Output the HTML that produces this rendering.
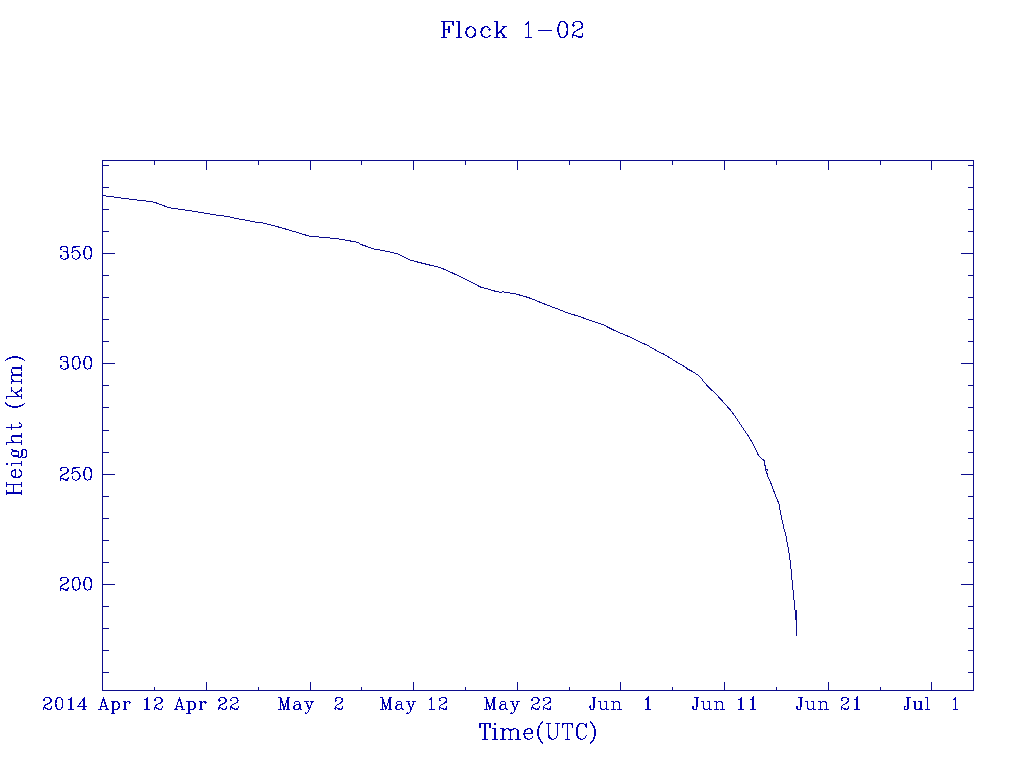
<!DOCTYPE html>
<html lang="en"><head><meta charset="utf-8"><title>Flock 1-02</title>
<style>html,body{margin:0;padding:0;background:#fff;}body{width:1024px;height:768px;overflow:hidden;font-family:"Liberation Serif",serif;}svg{display:block}</style></head>
<body>
<svg width="1024" height="768" viewBox="0 0 1024 768" role="img" aria-label="Flock 1-02: Height (km) versus Time(UTC)">
<rect width="1024" height="768" fill="#fff"/>
<path d="M102 160.5H974M102 690.5H974M102.5 160V691M973.5 160V691M103 253.5H115M961 253.5H973M103 363.5H115M961 363.5H973M103 474.5H115M961 474.5H973M103 584.5H115M961 584.5H973M103 165.5H109M968 165.5H973M103 187.5H109M968 187.5H973M103 209.5H109M968 209.5H973M103 231.5H109M968 231.5H973M103 275.5H109M968 275.5H973M103 297.5H109M968 297.5H973M103 319.5H109M968 319.5H973M103 341.5H109M968 341.5H973M103 385.5H109M968 385.5H973M103 407.5H109M968 407.5H973M103 430.5H109M968 430.5H973M103 452.5H109M968 452.5H973M103 496.5H109M968 496.5H973M103 518.5H109M968 518.5H973M103 540.5H109M968 540.5H973M103 562.5H109M968 562.5H973M103 606.5H109M968 606.5H973M103 628.5H109M968 628.5H973M103 650.5H109M968 650.5H973M103 672.5H109M968 672.5H973M206.5 682V690M206.5 161V170M310.5 682V690M310.5 161V170M413.5 682V690M413.5 161V170M517.5 682V690M517.5 161V170M620.5 682V690M620.5 161V170M724.5 682V690M724.5 161V170M828.5 682V690M828.5 161V170M931.5 682V690M931.5 161V170M154.5 687V690M154.5 161V165M258.5 687V690M258.5 161V165M361.5 687V690M361.5 161V165M465.5 687V690M465.5 161V165M569.5 687V690M569.5 161V165M672.5 687V690M672.5 161V165M776.5 687V690M776.5 161V165M880.5 687V690M880.5 161V165" fill="none" stroke="#0c0c8c" stroke-width="1" shape-rendering="crispEdges"/>
<path d="M102.5 195.5L106 196L121 198L137 200L151 201.5L155 202.5L162 205L168 207.5L181 209.5L192 211L204 213L216 215L228 216.5L235 218.25L247.75 220.5L255 222.1L262.75 223L267.75 224.25L280 227.4L292.75 231.1L309 236.1L327.75 237.75L341.5 239.25L352.5 241.4L358 242.25L361 244.5L375 249.25L381 250.1L390 252L397.5 253.9L402.5 256.4L410 260.1L417.5 262L428.5 264.75L440.4 267.6L453.5 273.5L466 279.4L481 287.25L488 289L497 291.8L502 292.3L503 291.2L504.5 292.3L510 293L513.7 293.5L517.5 294.5L521.5 295.5L525 296.5L528 297.5L531 298.5L533.5 299.5L535.75 300.5L538.25 301.5L540.6 302.5L543.1 303.5L548.5 305.5L553.6 307.5L558.9 309.5L563.9 311.5L569.35 313.5L577.5 315.9L582 317.5L584.9 318.5L590.4 320.5L596 322.5L602.7 324.5L615 330.75L627.5 336L641.2 342.5L648 345.5L651.1 347.5L653 348.5L656.2 350.5L660.3 352.5L664.5 354.5L666 355.5L669.4 357.5L672.45 359.5L675.65 361.5L679.1 363.5L682.25 365.3L685.4 367.1L687.6 369.1L691.6 371.1L694.75 373L697.25 374.6L699.75 376.75L701.6 378.6L703.75 381.9L709.6 388.1L715.8 393.9L722 400.6L726.2 405.4L730.75 410.4L734.5 415.4L738.7 421.7L742 426.7L744.5 430.5L747.7 435.1L752.7 443.4L755.3 448.4L758.25 455.1L761.1 458.2L764.2 460.4L764.5 465.2L765.5 465.6L765.5 470.4L767.5 469.3L766.5 473.5L767.4 474L767.6 476.5L769.5 479.7L770.8 483L773.3 489.7L775.8 496.3L778.3 502.2L779.2 505L780.2 511L782.1 520L784 528.8L785.8 535L787.5 544.3L789.3 554.6L790.7 564.9L791.5 575L792.5 585L793.5 595L794.5 605L795.5 615L795.6 619.5L796.5 611L796.5 635.6" fill="none" stroke="#0c0c8c" stroke-width="1" stroke-linejoin="round" shape-rendering="crispEdges"/>
<g fill="none" stroke="#0000b0" stroke-width="1" stroke-linecap="square" stroke-linejoin="miter" shape-rendering="crispEdges">
<path aria-label="Flock 1-02" stroke-width="1.1" d="M444 21.5L444 37.5M444.72 21.5L444.72 37.5M448.99 26.07L448.99 32.17M441.87 21.5L453.26 21.5L453.26 26.07L452.55 21.5M444.72 29.12L448.99 29.12M441.87 37.5L446.85 37.5M458.82 21.5L458.82 37.5M459.53 21.5L459.53 37.5M456.69 21.5L459.53 21.5M456.69 37.5L461.67 37.5M470.16 26.83L468.03 27.59L466.6 29.12L465.89 31.4L465.89 32.93L466.6 35.21L468.03 36.74L470.16 37.5L471.59 37.5L473.72 36.74L475.15 35.21L475.86 32.93L475.86 31.4L475.15 29.12L473.72 27.59L471.59 26.83L470.16 26.83M470.16 26.83L468.74 27.59L467.32 29.12L466.6 31.4L466.6 32.93L467.32 35.21L468.74 36.74L470.16 37.5M471.59 37.5L473.01 36.74L474.43 35.21L475.15 32.93L475.15 31.4L474.43 29.12L473.01 27.59L471.59 26.83M489.5 29.12L488.79 29.88L489.5 30.64L490.21 29.88L490.21 29.12L488.79 27.59L487.37 26.83L485.23 26.83L483.09 27.59L481.67 29.12L480.96 31.4L480.96 32.93L481.67 35.21L483.09 36.74L485.23 37.5L486.65 37.5L488.79 36.74L490.21 35.21M485.23 26.83L483.81 27.59L482.38 29.12L481.67 31.4L481.67 32.93L482.38 35.21L483.81 36.74L485.23 37.5M496.74 21.5L496.74 37.5M497.45 21.5L497.45 37.5M504.57 26.83L497.45 34.45M501.01 31.4L505.28 37.5M500.3 31.4L504.57 37.5M494.6 21.5L497.45 21.5M502.43 26.83L506.7 26.83M494.6 37.5L499.58 37.5M502.43 37.5L506.7 37.5M525.28 24.55L526.7 23.78L528.84 21.5L528.84 37.5M528.13 22.26L528.13 37.5M525.28 37.5L531.69 37.5M539.04 30.64L551.86 30.64M562.07 21.5L559.93 22.26L558.51 24.55L557.79 28.36L557.79 30.64L558.51 34.45L559.93 36.74L562.07 37.5L563.49 37.5L565.63 36.74L567.05 34.45L567.76 30.64L567.76 28.36L567.05 24.55L565.63 22.26L563.49 21.5L562.07 21.5M562.07 21.5L560.64 22.26L559.93 23.02L559.22 24.55L558.51 28.36L558.51 30.64L559.22 34.45L559.93 35.98L560.64 36.74L562.07 37.5M563.49 37.5L564.91 36.74L565.63 35.98L566.34 34.45L567.05 30.64L567.05 28.36L566.34 24.55L565.63 23.02L564.91 22.26L563.49 21.5M573.57 24.55L574.28 25.31L573.57 26.07L572.86 25.31L572.86 24.55L573.57 23.02L574.28 22.26L576.42 21.5L579.27 21.5L581.4 22.26L582.12 23.02L582.83 24.55L582.83 26.07L582.12 27.59L579.98 29.12L576.42 30.64L575 31.4L573.57 32.93L572.86 35.21L572.86 37.5M579.27 21.5L580.69 22.26L581.4 23.02L582.12 24.55L582.12 26.07L581.4 27.59L579.27 29.12L576.42 30.64M572.86 35.98L573.57 35.21L575 35.21L578.56 36.74L580.69 36.74L582.12 35.98L582.83 35.21M575 35.21L578.56 37.5L581.4 37.5L582.12 36.74L582.83 35.21L582.83 33.69"><title>Flock 1-02</title></path>
<path aria-label="Time(UTC)" stroke-width="1.1" d="M484.68 723.44L484.68 739.3M485.35 723.44L485.35 739.3M480.66 723.44L479.99 727.97L479.99 723.44L490.04 723.44L490.04 727.97L489.37 723.44M482.67 739.3L487.36 739.3M494.99 723.44L494.32 724.2L494.99 724.95L495.67 724.2L494.99 723.44M494.99 728.73L494.99 739.3M495.67 728.73L495.67 739.3M492.98 728.73L495.67 728.73M492.98 739.3L497.68 739.3M502.75 728.73L502.75 739.3M503.42 728.73L503.42 739.3M503.42 731L504.76 729.48L506.77 728.73L508.11 728.73L510.12 729.48L510.79 731L510.79 739.3M508.11 728.73L509.45 729.48L510.12 731L510.12 739.3M510.79 731L512.14 729.48L514.15 728.73L515.49 728.73L517.5 729.48L518.17 731L518.17 739.3M515.49 728.73L516.83 729.48L517.5 731L517.5 739.3M500.74 728.73L503.42 728.73M500.74 739.3L505.43 739.3M508.11 739.3L512.81 739.3M515.49 739.3L520.18 739.3M524.67 733.26L532.72 733.26L532.72 731.75L532.04 730.24L531.37 729.48L530.03 728.73L528.02 728.73L526.01 729.48L524.67 731L524 733.26L524 734.77L524.67 737.03L526.01 738.54L528.02 739.3L529.36 739.3L531.37 738.54L532.72 737.03M532.04 733.26L532.04 731L531.37 729.48M528.02 728.73L526.68 729.48L525.34 731L524.67 733.26L524.67 734.77L525.34 737.03L526.68 738.54L528.02 739.3M542.38 721.93L541.04 723.26L539.7 725.24L538.35 727.88L537.68 731.18L537.68 733.83L538.35 737.13L539.7 739.77L541.04 741.75L542.38 743.07M541.04 723.26L539.7 725.9L539.02 727.88L538.35 731.18L538.35 733.83L539.02 737.13L539.7 739.11L541.04 741.75M548.07 723.44L548.07 734.77L548.74 737.03L550.08 738.54L552.09 739.3L553.43 739.3L555.44 738.54L556.78 737.03L557.46 734.77L557.46 723.44M548.74 723.44L548.74 734.77L549.41 737.03L550.75 738.54L552.09 739.3M546.06 723.44L550.75 723.44M555.44 723.44L559.47 723.44M567.2 723.44L567.2 739.3M567.87 723.44L567.87 739.3M563.18 723.44L562.51 727.97L562.51 723.44L572.57 723.44L572.57 727.97L571.9 723.44M565.19 739.3L569.89 739.3M585.67 725.71L586.34 727.97L586.34 723.44L585.67 725.71L584.33 724.2L582.32 723.44L580.97 723.44L578.96 724.2L577.62 725.71L576.95 727.22L576.28 729.48L576.28 733.26L576.95 735.52L577.62 737.03L578.96 738.54L580.97 739.3L582.32 739.3L584.33 738.54L585.67 737.03L586.34 735.52M580.97 723.44L579.63 724.2L578.29 725.71L577.62 727.22L576.95 729.48L576.95 733.26L577.62 735.52L578.29 737.03L579.63 738.54L580.97 739.3M590.65 721.93L591.99 723.26L593.34 725.24L594.68 727.88L595.35 731.18L595.35 733.83L594.68 737.13L593.34 739.77L591.99 741.75L590.65 743.07M591.99 723.26L593.34 725.9L594.01 727.88L594.68 731.18L594.68 733.83L594.01 737.13L593.34 739.11L591.99 741.75"><title>Time(UTC)</title></path>
<path aria-label="Height (km)" stroke-width="1.1" d="M6.51 493L21.5 493M6.51 492.38L21.5 492.38M6.51 484.9L21.5 484.9M6.51 484.28L21.5 484.28M6.51 494.87L6.51 490.51M6.51 486.77L6.51 482.41M13.65 492.38L13.65 484.9M21.5 494.87L21.5 490.51M21.5 486.77L21.5 482.41M15.79 477.24L15.79 469.76L14.36 469.76L12.93 470.38L12.22 471.01L11.5 472.25L11.5 474.12L12.22 475.99L13.65 477.24L15.79 477.86L17.22 477.86L19.36 477.24L20.79 475.99L21.5 474.12L21.5 472.87L20.79 471.01L19.36 469.76M15.79 470.38L13.65 470.38L12.22 471.01M11.5 474.12L12.22 475.37L13.65 476.61L15.79 477.24L17.22 477.24L19.36 476.61L20.79 475.37L21.5 474.12M6.51 463.86L7.22 464.48L7.93 463.86L7.22 463.24L6.51 463.86M11.5 463.86L21.5 463.86M11.5 463.24L21.5 463.24M11.5 465.73L11.5 463.24M21.5 465.73L21.5 461.37M11.5 454.16L12.22 455.41L12.93 456.03L14.36 456.65L15.79 456.65L17.22 456.03L17.93 455.41L18.64 454.16L18.64 452.91L17.93 451.67L17.22 451.04L15.79 450.42L14.36 450.42L12.93 451.04L12.22 451.67L11.5 452.91L11.5 454.16M12.22 455.41L13.65 456.03L16.5 456.03L17.93 455.41M17.93 451.67L16.5 451.04L13.65 451.04L12.22 451.67M12.93 451.04L12.22 450.42L11.5 449.18L12.22 449.18L12.22 450.42M17.22 456.03L17.93 456.65L19.36 457.28L20.07 457.28L21.5 456.65L22.21 454.78L22.21 451.67L22.93 449.8L23.64 449.18M20.07 457.28L20.79 456.65L21.5 454.78L21.5 451.67L22.21 449.8L23.64 449.18L24.36 449.18L25.78 449.8L26.5 451.67L26.5 455.41L25.78 457.28L24.36 457.9L23.64 457.9L22.21 457.28L21.5 455.41M6.51 442.82L21.5 442.82M6.51 442.2L21.5 442.2M13.65 442.2L12.22 440.95L11.5 439.08L11.5 437.84L12.22 435.97L13.65 435.34L21.5 435.34M11.5 437.84L12.22 436.59L13.65 435.97L21.5 435.97M6.51 444.69L6.51 442.2M21.5 444.69L21.5 440.33M21.5 437.84L21.5 433.47M6.51 427.94L18.64 427.94L20.79 427.32L21.5 426.07L21.5 424.82L20.79 423.58L19.36 422.95M6.51 427.32L18.64 427.32L20.79 426.69L21.5 426.07M11.5 429.81L11.5 424.82M5.08 402.86L6.33 404.11L8.2 405.36L10.7 406.6L13.82 407.23L16.32 407.23L19.45 406.6L21.95 405.36L23.82 404.11L25.07 402.86M6.33 404.11L8.83 405.36L10.7 405.98L13.82 406.6L16.32 406.6L19.45 405.98L21.32 405.36L23.82 404.11M6.51 396.71L21.5 396.71M6.51 396.08L21.5 396.08M11.5 389.85L18.64 396.08M15.79 392.97L21.5 389.23M15.79 393.59L21.5 389.85M6.51 398.57L6.51 396.08M11.5 391.72L11.5 387.98M21.5 398.57L21.5 394.21M21.5 391.72L21.5 387.98M11.5 381.92L21.5 381.92M11.5 381.3L21.5 381.3M13.65 381.3L12.22 380.06L11.5 378.19L11.5 376.94L12.22 375.07L13.65 374.45L21.5 374.45M11.5 376.94L12.22 375.69L13.65 375.07L21.5 375.07M13.65 374.45L12.22 373.2L11.5 371.33L11.5 370.09L12.22 368.22L13.65 367.59L21.5 367.59M11.5 370.09L12.22 368.84L13.65 368.22L21.5 368.22M11.5 383.79L11.5 381.3M21.5 383.79L21.5 379.43M21.5 376.94L21.5 372.58M21.5 370.09L21.5 365.72M5.08 361.04L6.33 359.8L8.2 358.55L10.7 357.31L13.82 356.68L16.32 356.68L19.45 357.31L21.95 358.55L23.82 359.8L25.07 361.04M6.33 359.8L8.83 358.55L10.7 357.93L13.82 357.31L16.32 357.31L19.45 357.93L21.32 358.55L23.82 359.8"><title>Height (km)</title></path>
<path aria-label="2014 Apr 12" d="M44.32 699.83L44.85 700.4L44.32 700.98L43.78 700.4L43.78 699.83L44.32 698.68L44.85 698.1L46.47 697.52L48.61 697.52L50.22 698.1L50.76 698.68L51.3 699.83L51.3 700.98L50.76 702.12L49.15 703.27L46.47 704.43L45.39 705L44.32 706.15L43.78 707.88L43.78 709.6M48.61 697.52L49.69 698.1L50.22 698.68L50.76 699.83L50.76 700.98L50.22 702.12L48.61 703.27L46.47 704.43M43.78 708.45L44.32 707.88L45.39 707.88L48.08 709.02L49.69 709.02L50.76 708.45L51.3 707.88M45.39 707.88L48.08 709.6L50.22 709.6L50.76 709.02L51.3 707.88L51.3 706.73M58.68 697.52L57.07 698.1L55.99 699.83L55.46 702.7L55.46 704.43L55.99 707.3L57.07 709.02L58.68 709.6L59.75 709.6L61.36 709.02L62.44 707.3L62.97 704.43L62.97 702.7L62.44 699.83L61.36 698.1L59.75 697.52L58.68 697.52M58.68 697.52L57.6 698.1L57.07 698.68L56.53 699.83L55.99 702.7L55.99 704.43L56.53 707.3L57.07 708.45L57.6 709.02L58.68 709.6M59.75 709.6L60.83 709.02L61.36 708.45L61.9 707.3L62.44 704.43L62.44 702.7L61.9 699.83L61.36 698.68L60.83 698.1L59.75 697.52M68.74 699.83L69.82 699.25L71.43 697.52L71.43 709.6M70.89 698.1L70.89 709.6M68.74 709.6L73.58 709.6M83.64 698.68L83.64 709.6M84.18 697.52L84.18 709.6M84.18 697.52L78.27 706.15L86.86 706.15M82.03 709.6L85.79 709.6M103.58 697.52L99.82 709.6M103.58 697.52L107.34 709.6M103.58 699.25L106.81 709.6M100.9 706.15L105.73 706.15M98.75 709.6L101.97 709.6M105.19 709.6L108.42 709.6M112.62 701.55L112.62 713.62M113.16 701.55L113.16 713.62M113.16 703.27L114.23 702.12L115.31 701.55L116.38 701.55L117.99 702.12L119.07 703.27L119.6 705L119.6 706.15L119.07 707.88L117.99 709.02L116.38 709.6L115.31 709.6L114.23 709.02L113.16 707.88M116.38 701.55L117.45 702.12L118.53 703.27L119.07 705L119.07 706.15L118.53 707.88L117.45 709.02L116.38 709.6M111.01 701.55L113.16 701.55M111.01 713.62L114.77 713.62M124.79 701.55L124.79 709.6M125.32 701.55L125.32 709.6M125.32 705L125.86 703.27L126.94 702.12L128.01 701.55L129.62 701.55L130.16 702.12L130.16 702.7L129.62 703.27L129.08 702.7L129.62 702.12M123.18 701.55L125.32 701.55M123.18 709.6L126.94 709.6M144.64 699.83L145.71 699.25L147.32 697.52L147.32 709.6M146.78 698.1L146.78 709.6M144.64 709.6L149.47 709.6M155.24 699.83L155.78 700.4L155.24 700.98L154.7 700.4L154.7 699.83L155.24 698.68L155.78 698.1L157.39 697.52L159.53 697.52L161.15 698.1L161.68 698.68L162.22 699.83L162.22 700.98L161.68 702.12L160.07 703.27L157.39 704.43L156.31 705L155.24 706.15L154.7 707.88L154.7 709.6M159.53 697.52L160.61 698.1L161.15 698.68L161.68 699.83L161.68 700.98L161.15 702.12L159.53 703.27L157.39 704.43M154.7 708.45L155.24 707.88L156.31 707.88L159 709.02L160.61 709.02L161.68 708.45L162.22 707.88M156.31 707.88L159 709.6L161.15 709.6L161.68 709.02L162.22 707.88L162.22 706.73"><title>2014 Apr 12</title></path>
<path aria-label="Apr 22" d="M179.46 697.52L175.7 709.6M179.46 697.52L183.22 709.6M179.46 699.25L182.68 709.6M176.78 706.15L181.61 706.15M174.63 709.6L177.85 709.6M181.07 709.6L184.29 709.6M188.5 701.55L188.5 713.62M189.04 701.55L189.04 713.62M189.04 703.27L190.11 702.12L191.18 701.55L192.26 701.55L193.87 702.12L194.94 703.27L195.48 705L195.48 706.15L194.94 707.88L193.87 709.02L192.26 709.6L191.18 709.6L190.11 709.02L189.04 707.88M192.26 701.55L193.33 702.12L194.41 703.27L194.94 705L194.94 706.15L194.41 707.88L193.33 709.02L192.26 709.6M186.89 701.55L189.04 701.55M186.89 713.62L190.65 713.62M200.67 701.55L200.67 709.6M201.2 701.55L201.2 709.6M201.2 705L201.74 703.27L202.81 702.12L203.89 701.55L205.5 701.55L206.04 702.12L206.04 702.7L205.5 703.27L204.96 702.7L205.5 702.12M199.05 701.55L201.2 701.55M199.05 709.6L202.81 709.6M219.44 699.83L219.98 700.4L219.44 700.98L218.9 700.4L218.9 699.83L219.44 698.68L219.98 698.1L221.59 697.52L223.74 697.52L225.35 698.1L225.88 698.68L226.42 699.83L226.42 700.98L225.88 702.12L224.27 703.27L221.59 704.43L220.51 705L219.44 706.15L218.9 707.88L218.9 709.6M223.74 697.52L224.81 698.1L225.35 698.68L225.88 699.83L225.88 700.98L225.35 702.12L223.74 703.27L221.59 704.43M218.9 708.45L219.44 707.88L220.51 707.88L223.2 709.02L224.81 709.02L225.88 708.45L226.42 707.88M220.51 707.88L223.2 709.6L225.35 709.6L225.88 709.02L226.42 707.88L226.42 706.73M231.12 699.83L231.65 700.4L231.12 700.98L230.58 700.4L230.58 699.83L231.12 698.68L231.65 698.1L233.26 697.52L235.41 697.52L237.02 698.1L237.56 698.68L238.1 699.83L238.1 700.98L237.56 702.12L235.95 703.27L233.26 704.43L232.19 705L231.12 706.15L230.58 707.88L230.58 709.6M235.41 697.52L236.49 698.1L237.02 698.68L237.56 699.83L237.56 700.98L237.02 702.12L235.41 703.27L233.26 704.43M230.58 708.45L231.12 707.88L232.19 707.88L234.88 709.02L236.49 709.02L237.56 708.45L238.1 707.88M232.19 707.88L234.88 709.6L237.02 709.6L237.56 709.02L238.1 707.88L238.1 706.73"><title>Apr 22</title></path>
<path aria-label="May 2" d="M280.29 697.52L280.29 709.6M280.82 697.52L284.05 707.88M280.29 697.52L284.05 709.6M287.8 697.52L284.05 709.6M287.8 697.52L287.8 709.6M288.34 697.52L288.34 709.6M278.68 697.52L280.82 697.52M287.8 697.52L289.95 697.52M278.68 709.6L281.9 709.6M286.19 709.6L289.95 709.6M294.74 702.7L294.74 703.27L294.2 703.27L294.2 702.7L294.74 702.12L295.81 701.55L297.96 701.55L299.04 702.12L299.57 702.7L300.11 703.85L300.11 707.88L300.65 709.02L301.18 709.6M299.57 702.7L299.57 707.88L300.11 709.02L301.18 709.6L301.72 709.6M299.57 703.85L299.04 704.43L295.81 705L294.2 705.58L293.67 706.73L293.67 707.88L294.2 709.02L295.81 709.6L297.43 709.6L298.5 709.02L299.57 707.88M295.81 705L294.74 705.58L294.2 706.73L294.2 707.88L294.74 709.02L295.81 709.6M305.93 701.55L309.15 709.6M306.46 701.55L309.15 708.45M312.37 701.55L309.15 709.6L308.07 711.9L307 713.05L305.93 713.62L305.39 713.62L304.85 713.05L305.39 712.48L305.93 713.05M304.85 701.55L308.07 701.55M310.22 701.55L313.44 701.55M335.7 699.83L336.24 700.4L335.7 700.98L335.16 700.4L335.16 699.83L335.7 698.68L336.24 698.1L337.85 697.52L340 697.52L341.61 698.1L342.14 698.68L342.68 699.83L342.68 700.98L342.14 702.12L340.53 703.27L337.85 704.43L336.77 705L335.7 706.15L335.16 707.88L335.16 709.6M340 697.52L341.07 698.1L341.61 698.68L342.14 699.83L342.14 700.98L341.61 702.12L340 703.27L337.85 704.43M335.16 708.45L335.7 707.88L336.77 707.88L339.46 709.02L341.07 709.02L342.14 708.45L342.68 707.88M336.77 707.88L339.46 709.6L341.61 709.6L342.14 709.02L342.68 707.88L342.68 706.73"><title>May 2</title></path>
<path aria-label="May 12" d="M382.12 697.52L382.12 709.6M382.66 697.52L385.88 707.88M382.12 697.52L385.88 709.6M389.64 697.52L385.88 709.6M389.64 697.52L389.64 709.6M390.17 697.52L390.17 709.6M380.51 697.52L382.66 697.52M389.64 697.52L391.78 697.52M380.51 709.6L383.73 709.6M388.03 709.6L391.78 709.6M396.57 702.7L396.57 703.27L396.04 703.27L396.04 702.7L396.57 702.12L397.65 701.55L399.8 701.55L400.87 702.12L401.41 702.7L401.94 703.85L401.94 707.88L402.48 709.02L403.02 709.6M401.41 702.7L401.41 707.88L401.94 709.02L403.02 709.6L403.55 709.6M401.41 703.85L400.87 704.43L397.65 705L396.04 705.58L395.5 706.73L395.5 707.88L396.04 709.02L397.65 709.6L399.26 709.6L400.33 709.02L401.41 707.88M397.65 705L396.57 705.58L396.04 706.73L396.04 707.88L396.57 709.02L397.65 709.6M407.76 701.55L410.98 709.6M408.3 701.55L410.98 708.45M414.2 701.55L410.98 709.6L409.91 711.9L408.83 713.05L407.76 713.62L407.22 713.62L406.68 713.05L407.22 712.48L407.76 713.05M406.68 701.55L409.91 701.55M412.05 701.55L415.28 701.55M429.27 699.83L430.34 699.25L431.95 697.52L431.95 709.6M431.41 698.1L431.41 709.6M429.27 709.6L434.1 709.6M439.87 699.83L440.4 700.4L439.87 700.98L439.33 700.4L439.33 699.83L439.87 698.68L440.4 698.1L442.02 697.52L444.16 697.52L445.77 698.1L446.31 698.68L446.85 699.83L446.85 700.98L446.31 702.12L444.7 703.27L442.02 704.43L440.94 705L439.87 706.15L439.33 707.88L439.33 709.6M444.16 697.52L445.24 698.1L445.77 698.68L446.31 699.83L446.31 700.98L445.77 702.12L444.16 703.27L442.02 704.43M439.33 708.45L439.87 707.88L440.94 707.88L443.63 709.02L445.24 709.02L446.31 708.45L446.85 707.88M440.94 707.88L443.63 709.6L445.77 709.6L446.31 709.02L446.85 707.88L446.85 706.73"><title>May 12</title></path>
<path aria-label="May 22" d="M486.12 697.52L486.12 709.6M486.66 697.52L489.88 707.88M486.12 697.52L489.88 709.6M493.64 697.52L489.88 709.6M493.64 697.52L493.64 709.6M494.17 697.52L494.17 709.6M484.51 697.52L486.66 697.52M493.64 697.52L495.78 697.52M484.51 709.6L487.73 709.6M492.03 709.6L495.78 709.6M500.57 702.7L500.57 703.27L500.04 703.27L500.04 702.7L500.57 702.12L501.65 701.55L503.8 701.55L504.87 702.12L505.41 702.7L505.94 703.85L505.94 707.88L506.48 709.02L507.02 709.6M505.41 702.7L505.41 707.88L505.94 709.02L507.02 709.6L507.55 709.6M505.41 703.85L504.87 704.43L501.65 705L500.04 705.58L499.5 706.73L499.5 707.88L500.04 709.02L501.65 709.6L503.26 709.6L504.33 709.02L505.41 707.88M501.65 705L500.57 705.58L500.04 706.73L500.04 707.88L500.57 709.02L501.65 709.6M511.76 701.55L514.98 709.6M512.3 701.55L514.98 708.45M518.2 701.55L514.98 709.6L513.91 711.9L512.83 713.05L511.76 713.62L511.22 713.62L510.69 713.05L511.22 712.48L511.76 713.05M510.69 701.55L513.91 701.55M516.05 701.55L519.28 701.55M532.19 699.83L532.73 700.4L532.19 700.98L531.65 700.4L531.65 699.83L532.19 698.68L532.73 698.1L534.34 697.52L536.49 697.52L538.1 698.1L538.64 698.68L539.17 699.83L539.17 700.98L538.64 702.12L537.02 703.27L534.34 704.43L533.27 705L532.19 706.15L531.65 707.88L531.65 709.6M536.49 697.52L537.56 698.1L538.1 698.68L538.64 699.83L538.64 700.98L538.1 702.12L536.49 703.27L534.34 704.43M531.65 708.45L532.19 707.88L533.27 707.88L535.95 709.02L537.56 709.02L538.64 708.45L539.17 707.88M533.27 707.88L535.95 709.6L538.1 709.6L538.64 709.02L539.17 707.88L539.17 706.73M543.87 699.83L544.4 700.4L543.87 700.98L543.33 700.4L543.33 699.83L543.87 698.68L544.4 698.1L546.02 697.52L548.16 697.52L549.77 698.1L550.31 698.68L550.85 699.83L550.85 700.98L550.31 702.12L548.7 703.27L546.02 704.43L544.94 705L543.87 706.15L543.33 707.88L543.33 709.6M548.16 697.52L549.24 698.1L549.77 698.68L550.31 699.83L550.31 700.98L549.77 702.12L548.16 703.27L546.02 704.43M543.33 708.45L543.87 707.88L544.94 707.88L547.63 709.02L549.24 709.02L550.31 708.45L550.85 707.88M544.94 707.88L547.63 709.6L549.77 709.6L550.31 709.02L550.85 707.88L550.85 706.73"><title>May 22</title></path>
<path aria-label="Jun 1" d="M594.2 697.52L594.2 707.3L593.66 709.02L592.59 709.6L591.51 709.6L590.44 709.02L589.9 707.88L589.9 706.73L590.44 706.15L590.97 706.73L590.44 707.3M593.66 697.52L593.66 707.3L593.12 709.02L592.59 709.6M592.05 697.52L595.81 697.52M600.46 701.55L600.46 707.88L600.99 709.02L602.6 709.6L603.68 709.6L605.29 709.02L606.36 707.88M600.99 701.55L600.99 707.88L601.53 709.02L602.6 709.6M606.36 701.55L606.36 709.6M606.9 701.55L606.9 709.6M598.84 701.55L600.99 701.55M604.75 701.55L606.9 701.55M606.36 709.6L608.51 709.6M613.3 701.55L613.3 709.6M613.84 701.55L613.84 709.6M613.84 703.27L614.91 702.12L616.52 701.55L617.6 701.55L619.21 702.12L619.74 703.27L619.74 709.6M617.6 701.55L618.67 702.12L619.21 703.27L619.21 709.6M611.69 701.55L613.84 701.55M611.69 709.6L615.45 709.6M617.6 709.6L621.35 709.6M645.31 699.83L646.39 699.25L648 697.52L648 709.6M647.46 698.1L647.46 709.6M645.31 709.6L650.15 709.6"><title>Jun 1</title></path>
<path aria-label="Jun 11" d="M697.03 697.52L697.03 707.3L696.49 709.02L695.42 709.6L694.34 709.6L693.27 709.02L692.73 707.88L692.73 706.73L693.27 706.15L693.81 706.73L693.27 707.3M696.49 697.52L696.49 707.3L695.96 709.02L695.42 709.6M694.88 697.52L698.64 697.52M703.29 701.55L703.29 707.88L703.83 709.02L705.44 709.6L706.51 709.6L708.12 709.02L709.2 707.88M703.83 701.55L703.83 707.88L704.36 709.02L705.44 709.6M709.2 701.55L709.2 709.6M709.73 701.55L709.73 709.6M701.68 701.55L703.83 701.55M707.58 701.55L709.73 701.55M709.2 709.6L711.34 709.6M716.13 701.55L716.13 709.6M716.67 701.55L716.67 709.6M716.67 703.27L717.74 702.12L719.35 701.55L720.43 701.55L722.04 702.12L722.58 703.27L722.58 709.6M720.43 701.55L721.5 702.12L722.04 703.27L722.04 709.6M714.52 701.55L716.67 701.55M714.52 709.6L718.28 709.6M720.43 709.6L724.19 709.6M738.81 699.83L739.88 699.25L741.49 697.52L741.49 709.6M740.95 698.1L740.95 709.6M738.81 709.6L743.64 709.6M750.48 699.83L751.56 699.25L753.17 697.52L753.17 709.6M752.63 698.1L752.63 709.6M750.48 709.6L755.32 709.6"><title>Jun 11</title></path>
<path aria-label="Jun 21" d="M801.03 697.52L801.03 707.3L800.49 709.02L799.42 709.6L798.34 709.6L797.27 709.02L796.73 707.88L796.73 706.73L797.27 706.15L797.81 706.73L797.27 707.3M800.49 697.52L800.49 707.3L799.96 709.02L799.42 709.6M798.88 697.52L802.64 697.52M807.29 701.55L807.29 707.88L807.83 709.02L809.44 709.6L810.51 709.6L812.12 709.02L813.2 707.88M807.83 701.55L807.83 707.88L808.36 709.02L809.44 709.6M813.2 701.55L813.2 709.6M813.73 701.55L813.73 709.6M805.68 701.55L807.83 701.55M811.58 701.55L813.73 701.55M813.2 709.6L815.34 709.6M820.13 701.55L820.13 709.6M820.67 701.55L820.67 709.6M820.67 703.27L821.74 702.12L823.35 701.55L824.43 701.55L826.04 702.12L826.58 703.27L826.58 709.6M824.43 701.55L825.5 702.12L826.04 703.27L826.04 709.6M818.52 701.55L820.67 701.55M818.52 709.6L822.28 709.6M824.43 709.6L828.19 709.6M841.73 699.83L842.27 700.4L841.73 700.98L841.2 700.4L841.2 699.83L841.73 698.68L842.27 698.1L843.88 697.52L846.03 697.52L847.64 698.1L848.18 698.68L848.71 699.83L848.71 700.98L848.18 702.12L846.57 703.27L843.88 704.43L842.81 705L841.73 706.15L841.2 707.88L841.2 709.6M846.03 697.52L847.1 698.1L847.64 698.68L848.18 699.83L848.18 700.98L847.64 702.12L846.03 703.27L843.88 704.43M841.2 708.45L841.73 707.88L842.81 707.88L845.49 709.02L847.1 709.02L848.18 708.45L848.71 707.88M842.81 707.88L845.49 709.6L847.64 709.6L848.18 709.02L848.71 707.88L848.71 706.73M854.48 699.83L855.56 699.25L857.17 697.52L857.17 709.6M856.63 698.1L856.63 709.6M854.48 709.6L859.32 709.6"><title>Jun 21</title></path>
<path aria-label="Jul 1" d="M908.41 697.52L908.41 707.3L907.87 709.02L906.8 709.6L905.72 709.6L904.65 709.02L904.11 707.88L904.11 706.73L904.65 706.15L905.19 706.73L904.65 707.3M907.87 697.52L907.87 707.3L907.33 709.02L906.8 709.6M906.26 697.52L910.02 697.52M914.67 701.55L914.67 707.88L915.2 709.02L916.81 709.6L917.89 709.6L919.5 709.02L920.57 707.88M915.2 701.55L915.2 707.88L915.74 709.02L916.81 709.6M920.57 701.55L920.57 709.6M921.11 701.55L921.11 709.6M913.06 701.55L915.2 701.55M918.96 701.55L921.11 701.55M920.57 709.6L922.72 709.6M927.23 697.52L927.23 709.6M927.77 697.52L927.77 709.6M925.62 697.52L927.77 697.52M925.62 709.6L929.38 709.6M953.1 699.83L954.18 699.25L955.79 697.52L955.79 709.6M955.25 698.1L955.25 709.6M953.1 709.6L957.94 709.6"><title>Jul 1</title></path>
<path aria-label="350" d="M60.97 248.8L61.55 249.4L60.97 250L60.39 249.4L60.39 248.8L60.97 247.6L61.55 247L63.28 246.4L65.6 246.4L67.33 247L67.91 248.2L67.91 250L67.33 251.2L65.6 251.8L63.86 251.8M65.6 246.4L66.76 247L67.33 248.2L67.33 250L66.76 251.2L65.6 251.8M65.6 251.8L66.76 252.4L67.91 253.6L68.49 254.8L68.49 256.6L67.91 257.8L67.33 258.4L65.6 259L63.28 259L61.55 258.4L60.97 257.8L60.39 256.6L60.39 256L60.97 255.4L61.55 256L60.97 256.6M67.33 253L67.91 254.8L67.91 256.6L67.33 257.8L66.76 258.4L65.6 259M73.23 246.4L72.07 252.4M72.07 252.4L73.23 251.2L74.96 250.6L76.7 250.6L78.44 251.2L79.59 252.4L80.17 254.2L80.17 255.4L79.59 257.2L78.44 258.4L76.7 259L74.96 259L73.23 258.4L72.65 257.8L72.07 256.6L72.07 256L72.65 255.4L73.23 256L72.65 256.6M76.7 250.6L77.86 251.2L79.02 252.4L79.59 254.2L79.59 255.4L79.02 257.2L77.86 258.4L76.7 259M73.23 246.4L79.02 246.4M73.23 247L76.12 247L79.02 246.4M87.22 246.4L85.48 247L84.33 248.8L83.75 251.8L83.75 253.6L84.33 256.6L85.48 258.4L87.22 259L88.38 259L90.12 258.4L91.27 256.6L91.85 253.6L91.85 251.8L91.27 248.8L90.12 247L88.38 246.4L87.22 246.4M87.22 246.4L86.06 247L85.48 247.6L84.91 248.8L84.33 251.8L84.33 253.6L84.91 256.6L85.48 257.8L86.06 258.4L87.22 259M88.38 259L89.54 258.4L90.12 257.8L90.69 256.6L91.27 253.6L91.27 251.8L90.69 248.8L90.12 247.6L89.54 247L88.38 246.4"><title>350</title></path>
<path aria-label="300" d="M60.97 358.8L61.55 359.4L60.97 360L60.39 359.4L60.39 358.8L60.97 357.6L61.55 357L63.28 356.4L65.6 356.4L67.33 357L67.91 358.2L67.91 360L67.33 361.2L65.6 361.8L63.86 361.8M65.6 356.4L66.76 357L67.33 358.2L67.33 360L66.76 361.2L65.6 361.8M65.6 361.8L66.76 362.4L67.91 363.6L68.49 364.8L68.49 366.6L67.91 367.8L67.33 368.4L65.6 369L63.28 369L61.55 368.4L60.97 367.8L60.39 366.6L60.39 366L60.97 365.4L61.55 366L60.97 366.6M67.33 363L67.91 364.8L67.91 366.6L67.33 367.8L66.76 368.4L65.6 369M75.54 356.4L73.8 357L72.65 358.8L72.07 361.8L72.07 363.6L72.65 366.6L73.8 368.4L75.54 369L76.7 369L78.44 368.4L79.59 366.6L80.17 363.6L80.17 361.8L79.59 358.8L78.44 357L76.7 356.4L75.54 356.4M75.54 356.4L74.38 357L73.8 357.6L73.23 358.8L72.65 361.8L72.65 363.6L73.23 366.6L73.8 367.8L74.38 368.4L75.54 369M76.7 369L77.86 368.4L78.44 367.8L79.02 366.6L79.59 363.6L79.59 361.8L79.02 358.8L78.44 357.6L77.86 357L76.7 356.4M87.22 356.4L85.48 357L84.33 358.8L83.75 361.8L83.75 363.6L84.33 366.6L85.48 368.4L87.22 369L88.38 369L90.12 368.4L91.27 366.6L91.85 363.6L91.85 361.8L91.27 358.8L90.12 357L88.38 356.4L87.22 356.4M87.22 356.4L86.06 357L85.48 357.6L84.91 358.8L84.33 361.8L84.33 363.6L84.91 366.6L85.48 367.8L86.06 368.4L87.22 369M88.38 369L89.54 368.4L90.12 367.8L90.69 366.6L91.27 363.6L91.27 361.8L90.69 358.8L90.12 357.6L89.54 357L88.38 356.4"><title>300</title></path>
<path aria-label="250" d="M60.97 469.8L61.55 470.4L60.97 471L60.39 470.4L60.39 469.8L60.97 468.6L61.55 468L63.28 467.4L65.6 467.4L67.33 468L67.91 468.6L68.49 469.8L68.49 471L67.91 472.2L66.18 473.4L63.28 474.6L62.12 475.2L60.97 476.4L60.39 478.2L60.39 480M65.6 467.4L66.76 468L67.33 468.6L67.91 469.8L67.91 471L67.33 472.2L65.6 473.4L63.28 474.6M60.39 478.8L60.97 478.2L62.12 478.2L65.02 479.4L66.76 479.4L67.91 478.8L68.49 478.2M62.12 478.2L65.02 480L67.33 480L67.91 479.4L68.49 478.2L68.49 477M73.23 467.4L72.07 473.4M72.07 473.4L73.23 472.2L74.96 471.6L76.7 471.6L78.44 472.2L79.59 473.4L80.17 475.2L80.17 476.4L79.59 478.2L78.44 479.4L76.7 480L74.96 480L73.23 479.4L72.65 478.8L72.07 477.6L72.07 477L72.65 476.4L73.23 477L72.65 477.6M76.7 471.6L77.86 472.2L79.02 473.4L79.59 475.2L79.59 476.4L79.02 478.2L77.86 479.4L76.7 480M73.23 467.4L79.02 467.4M73.23 468L76.12 468L79.02 467.4M87.22 467.4L85.48 468L84.33 469.8L83.75 472.8L83.75 474.6L84.33 477.6L85.48 479.4L87.22 480L88.38 480L90.12 479.4L91.27 477.6L91.85 474.6L91.85 472.8L91.27 469.8L90.12 468L88.38 467.4L87.22 467.4M87.22 467.4L86.06 468L85.48 468.6L84.91 469.8L84.33 472.8L84.33 474.6L84.91 477.6L85.48 478.8L86.06 479.4L87.22 480M88.38 480L89.54 479.4L90.12 478.8L90.69 477.6L91.27 474.6L91.27 472.8L90.69 469.8L90.12 468.6L89.54 468L88.38 467.4"><title>250</title></path>
<path aria-label="200" d="M60.97 579.8L61.55 580.4L60.97 581L60.39 580.4L60.39 579.8L60.97 578.6L61.55 578L63.28 577.4L65.6 577.4L67.33 578L67.91 578.6L68.49 579.8L68.49 581L67.91 582.2L66.18 583.4L63.28 584.6L62.12 585.2L60.97 586.4L60.39 588.2L60.39 590M65.6 577.4L66.76 578L67.33 578.6L67.91 579.8L67.91 581L67.33 582.2L65.6 583.4L63.28 584.6M60.39 588.8L60.97 588.2L62.12 588.2L65.02 589.4L66.76 589.4L67.91 588.8L68.49 588.2M62.12 588.2L65.02 590L67.33 590L67.91 589.4L68.49 588.2L68.49 587M75.54 577.4L73.8 578L72.65 579.8L72.07 582.8L72.07 584.6L72.65 587.6L73.8 589.4L75.54 590L76.7 590L78.44 589.4L79.59 587.6L80.17 584.6L80.17 582.8L79.59 579.8L78.44 578L76.7 577.4L75.54 577.4M75.54 577.4L74.38 578L73.8 578.6L73.23 579.8L72.65 582.8L72.65 584.6L73.23 587.6L73.8 588.8L74.38 589.4L75.54 590M76.7 590L77.86 589.4L78.44 588.8L79.02 587.6L79.59 584.6L79.59 582.8L79.02 579.8L78.44 578.6L77.86 578L76.7 577.4M87.22 577.4L85.48 578L84.33 579.8L83.75 582.8L83.75 584.6L84.33 587.6L85.48 589.4L87.22 590L88.38 590L90.12 589.4L91.27 587.6L91.85 584.6L91.85 582.8L91.27 579.8L90.12 578L88.38 577.4L87.22 577.4M87.22 577.4L86.06 578L85.48 578.6L84.91 579.8L84.33 582.8L84.33 584.6L84.91 587.6L85.48 588.8L86.06 589.4L87.22 590M88.38 590L89.54 589.4L90.12 588.8L90.69 587.6L91.27 584.6L91.27 582.8L90.69 579.8L90.12 578.6L89.54 578L88.38 577.4"><title>200</title></path>
</g>
</svg>
</body></html>
